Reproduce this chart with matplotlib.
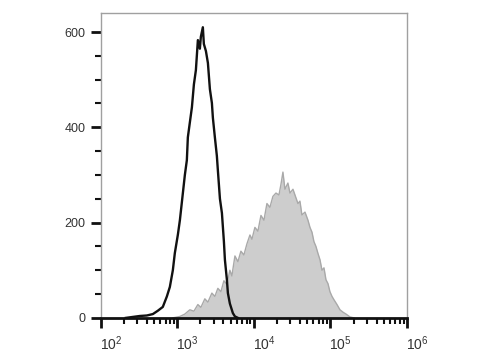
import numpy as np
import matplotlib
matplotlib.use("Agg")
import matplotlib.pyplot as plt
from matplotlib.ticker import FixedLocator, LogLocator, NullFormatter
from matplotlib.transforms import ScaledTranslation

plt.rcParams['font.family'] = ['Liberation Sans', 'DejaVu Sans']
plt.rcParams['mathtext.fontset'] = 'custom'
plt.rcParams['mathtext.rm'] = 'Liberation Sans'
plt.rcParams['mathtext.it'] = 'Liberation Sans'

# control (black outline), log10 of fluorescence intensity vs count
ctrl_log = [2.327, 2.418, 2.510, 2.601, 2.680, 2.745, 2.810, 2.863, 2.902, 2.941,
            2.967, 3.007, 3.033, 3.072, 3.098, 3.124, 3.137, 3.163, 3.190, 3.216,
            3.242, 3.268, 3.294, 3.307, 3.333, 3.346, 3.373, 3.399, 3.425, 3.451,
            3.464, 3.490, 3.516, 3.529, 3.556, 3.582, 3.608, 3.621, 3.647, 3.660,
            3.686, 3.725, 3.752, 3.791]
ctrl_cnt = [0, 2, 4, 5, 8, 15, 23, 45, 65, 100,
            136, 175, 205, 262, 300, 331, 379, 410, 442, 490,
            520, 583, 565, 590, 610, 575, 560, 535, 480, 451,
            420, 379, 340, 310, 250, 220, 160, 122, 80, 52,
            30, 10, 3, 0]

# stained sample (gray filled)
stain_log = [2.941, 3.033, 3.098, 3.163, 3.216, 3.268, 3.307, 3.359, 3.399, 3.451,
             3.490, 3.529, 3.569, 3.608, 3.647, 3.686, 3.712, 3.752, 3.791, 3.830,
             3.869, 3.908, 3.948, 3.974, 4.013, 4.052, 4.092, 4.131, 4.170, 4.209,
             4.248, 4.288, 4.327, 4.353, 4.379, 4.405, 4.444, 4.471, 4.510, 4.536,
             4.575, 4.601, 4.627, 4.667, 4.706, 4.732, 4.758, 4.784, 4.810, 4.837,
             4.863, 4.889, 4.915, 4.941, 4.967, 4.993, 5.020, 5.046, 5.085, 5.124,
             5.163, 5.203, 5.255, 5.307]
stain_cnt = [0, 3, 8, 17, 14, 28, 22, 40, 33, 52,
             45, 62, 55, 78, 70, 100, 88, 130, 118, 140,
             132, 155, 174, 165, 190, 182, 215, 205, 240, 232,
             255, 262, 258, 280, 306, 270, 283, 262, 270, 258,
             240, 245, 216, 222, 205, 190, 180, 160, 150, 135,
             122, 100, 105, 80, 72, 55, 45, 38, 28, 17,
             12, 8, 2, 0]

y_major = [0, 200, 400, 600]

fig = plt.figure(figsize=(4.8, 3.6), dpi=100)
ax = fig.add_axes([0.210, 0.117, 0.638, 0.847])

sx = 10 ** np.array(stain_log)
cx = 10 ** np.array(ctrl_log)
ax.fill_between(sx, stain_cnt, 0, color='#cdcdcd', linewidth=0, zorder=1)
ax.plot(sx, stain_cnt, color='#a9a9a9', linewidth=1.0, zorder=2)
ax.plot(cx, ctrl_cnt, color='#111111', linewidth=1.7, zorder=3)

ax.set_xscale('log')
ax.set_xlim(1e2, 1e6)
ax.set_ylim(0, 640)

ax.set_xticks([1e2, 1e3, 1e4, 1e5, 1e6])
ax.set_xticklabels([r'$10^{2}$', r'$10^{3}$', r'$10^{4}$', r'$10^{5}$', r'$10^{6}$'])
ax.xaxis.set_minor_locator(LogLocator(base=10, subs=np.arange(2, 10)))
ax.xaxis.set_minor_formatter(NullFormatter())
ax.set_yticks(y_major)
ax.yaxis.set_minor_locator(FixedLocator(np.arange(50, 640, 50)))

ax.tick_params(axis='both', which='major', direction='out', length=7, width=2,
               color='#111111', labelsize=9, labelcolor='#333333')
ax.tick_params(axis='both', which='minor', direction='out', length=4, width=1.5,
               color='#111111')
ax.tick_params(axis='x', which='major', labelsize=10, pad=5)
ax.tick_params(axis='y', which='major', pad=4)

offset = ScaledTranslation(10 / 100, 0, fig.dpi_scale_trans)
for lab in ax.get_xticklabels():
    lab.set_transform(lab.get_transform() + offset)

for side in ['top', 'right', 'left']:
    ax.spines[side].set_color('#a0a0a0')
    ax.spines[side].set_linewidth(1.0)
ax.spines['bottom'].set_color('#111111')
ax.spines['bottom'].set_linewidth(2.0)

fig.savefig('out.png', dpi=100)
